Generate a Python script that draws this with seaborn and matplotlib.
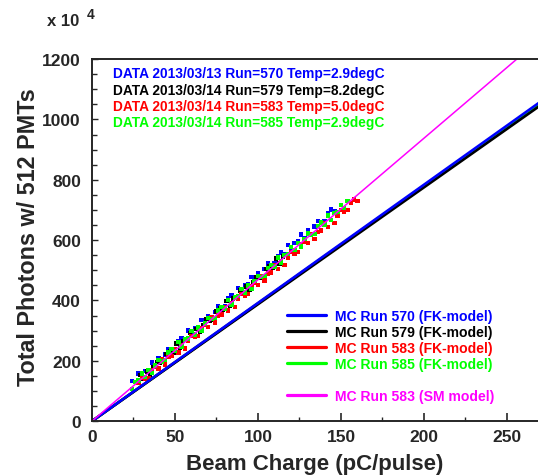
import matplotlib
matplotlib.use("Agg")
import matplotlib.pyplot as plt
import seaborn as sns
import pandas as pd
from matplotlib.lines import Line2D
from matplotlib.ticker import MultipleLocator

# data points (beam charge in pC/pulse, photons x 1e4)
run570_x = [24, 26, 28, 30, 32, 34, 36, 38, 40, 42, 44, 46, 48, 50, 52, 54, 56, 58, 60, 62,
            64, 66, 68, 70, 72, 74, 76, 78, 80, 82, 84, 86, 88, 90, 92, 94, 96, 98, 100, 102,
            104, 106, 108, 110, 112, 114, 116, 118, 120, 122, 124, 126, 128, 130, 132, 134,
            136, 138, 140, 142, 144, 146]
run570_y = [134, 129, 158, 143, 166, 170, 194, 183, 207, 196, 221, 239, 235, 239, 264, 276,
            270, 300, 284, 308, 312, 336, 325, 348, 338, 362, 381, 376, 381, 406, 417, 412,
            441, 426, 449, 454, 477, 467, 490, 479, 504, 522, 518, 522, 548, 559, 554, 583,
            567, 591, 595, 619, 608, 632, 621, 645, 664, 659, 664, 689, 701, 695]

run579_x = [27, 29, 31, 33, 35, 37, 39, 41, 43, 45, 47, 49, 51, 53, 55, 57, 59, 61, 63, 65,
            67, 69, 71, 73, 75, 77, 79, 81, 83, 85, 87, 89, 91, 93, 95, 97, 99, 101, 103, 105,
            107, 109, 111, 113, 115, 117]
run579_y = [129, 152, 141, 165, 154, 179, 197, 192, 197, 222, 233, 228, 257, 242, 265, 269,
            293, 282, 306, 295, 319, 338, 333, 337, 363, 374, 369, 398, 382, 406, 410, 433,
            423, 446, 436, 460, 478, 474, 478, 504, 515, 509, 539, 523, 546, 551]

run583_x = [28, 30, 32, 34, 36, 38, 40, 42, 44, 46, 48, 50, 52, 54, 56, 58, 60, 62, 64, 66,
            68, 70, 72, 74, 76, 78, 80, 82, 84, 86, 88, 90, 92, 94, 96, 98, 100, 102, 104, 106,
            108, 110, 112, 114, 116, 118, 120, 122, 124, 126, 128, 130, 132, 134, 136, 138,
            140, 142, 144, 146, 148, 150, 152, 154, 156, 158, 160]
run583_y = [126, 145, 140, 144, 169, 181, 175, 204, 188, 212, 216, 239, 228, 252, 241, 265,
            283, 278, 283, 308, 319, 313, 343, 327, 350, 354, 378, 367, 390, 379, 404, 422,
            417, 421, 447, 458, 452, 481, 466, 489, 493, 516, 505, 529, 518, 542, 560, 556,
            560, 585, 596, 591, 620, 604, 627, 632, 655, 644, 667, 657, 681, 699, 694, 699,
            724, 735, 729]

run585_x = [24, 26, 28, 30, 32, 34, 36, 38, 40, 42, 44, 46, 48, 50, 52, 54, 56, 58, 60, 62,
            64, 66, 68, 70, 72, 74, 76, 78, 80, 82, 84, 86, 88, 90, 92, 94, 96, 98, 100, 102,
            104, 106, 108, 110, 112, 114, 116, 118, 120, 122, 124, 126, 128, 130, 132, 134,
            136, 138, 140, 142, 144, 146, 148, 150, 152, 154]
run585_y = [107, 130, 135, 158, 147, 170, 160, 184, 202, 198, 202, 227, 239, 233, 262, 247,
            270, 274, 298, 287, 310, 300, 324, 342, 338, 342, 367, 379, 373, 402, 386, 410,
            414, 437, 427, 450, 439, 464, 482, 477, 482, 507, 518, 513, 542, 526, 550, 554,
            577, 567, 590, 579, 604, 622, 617, 621, 647, 658, 652, 682, 666, 689, 694, 717,
            706, 730]

# MC expectation lines (end points)
mc_charge = [0, 270]
mc570 = [0, 1058]
mc579 = [0, 1046]
mc583 = [0, 1053]
mc585 = [0, 1053]
sm583 = [0, 1266]

data_labels = ["DATA 2013/03/13 Run=570 Temp=2.9degC",
               "DATA 2013/03/14 Run=579 Temp=8.2degC",
               "DATA 2013/03/14 Run=583 Temp=5.0degC",
               "DATA 2013/03/14 Run=585 Temp=2.9degC"]
mc_labels = ["MC Run 570 (FK-model)", "MC Run 579 (FK-model)", "MC Run 583 (FK-model)",
             "MC Run 585 (FK-model)", " ", "MC Run 583 (SM model)"]

BLUE = "#0000ff"
BLACK = "#000000"
RED = "#ff0000"
GREEN = "#00ff00"
MAGENTA = "#ff00ff"

sns.set_style("ticks")
plt.rcParams['font.family'] = ['Liberation Sans', 'DejaVu Sans']
plt.rcParams['font.weight'] = 'bold'

df = pd.concat([
    pd.DataFrame({"q": run570_x, "n": run570_y, "run": "570"}),
    pd.DataFrame({"q": run579_x, "n": run579_y, "run": "579"}),
    pd.DataFrame({"q": run583_x, "n": run583_y, "run": "583"}),
    pd.DataFrame({"q": run585_x, "n": run585_y, "run": "585"}),
])

fig = plt.figure(figsize=(5.38, 4.77), dpi=100)
ax = fig.add_axes([0.171, 0.115, 0.829, 0.759])

# MC lines
for y, c in [(mc583, RED), (mc585, GREEN), (mc579, BLACK), (mc570, BLUE)]:
    sns.lineplot(x=mc_charge, y=y, color=c, linewidth=1.9, ax=ax)

sns.scatterplot(data=df, x="q", y="n", hue="run",
                palette={"570": BLUE, "579": BLACK, "583": RED, "585": GREEN},
                marker="s", s=10, linewidth=0, legend=False, ax=ax)

sns.lineplot(x=mc_charge, y=sm583, color=MAGENTA, linewidth=1.1, ax=ax)

ax.set_xlim(0, 268.7)
ax.set_ylim(0, 1200)
ax.xaxis.set_major_locator(MultipleLocator(50))
ax.xaxis.set_minor_locator(MultipleLocator(25))
ax.yaxis.set_major_locator(MultipleLocator(200))
ax.yaxis.set_minor_locator(MultipleLocator(50))
ax.tick_params(axis="x", which="major", direction="in", length=6, width=1.2,
               labelsize=12.5, pad=6)
ax.tick_params(axis="x", which="minor", direction="in", length=3, width=1.0)
ax.tick_params(axis="y", which="major", direction="in", length=4, width=1.0,
               labelsize=12.5, pad=8)
ax.tick_params(axis="y", which="minor", direction="in", length=3.5, width=1.0)
for lab in ax.get_xticklabels() + ax.get_yticklabels():
    lab.set_fontweight("bold")

for side in ["left", "bottom", "top"]:
    ax.spines[side].set_linewidth(1.4)
ax.spines["right"].set_visible(False)

ax.set_xlabel("Beam Charge (pC/pulse)", fontsize=16, fontweight="bold", labelpad=6)
ax.set_ylabel("Total Photons w/ 512 PMTs", fontsize=16.8, fontweight="bold")
ax.yaxis.set_label_coords(-0.117, 0.512)

# data run labels
for lab, c, yy in zip(data_labels, [BLUE, BLACK, RED, GREEN], [0.962, 0.915, 0.870, 0.826]):
    ax.text(0.047, yy, lab, color=c, fontsize=9.9, fontweight="bold",
            transform=ax.transAxes, va="center", ha="left")

# MC legend
handles = [Line2D([], [], color=c, linewidth=2.3) for c in [BLUE, BLACK, RED, GREEN]]
handles.append(Line2D([], [], color="none"))
handles.append(Line2D([], [], color=MAGENTA, linewidth=2.3))
leg = ax.legend(handles, mc_labels, loc="upper left", bbox_to_anchor=(0.437, 0.31),
                frameon=False, fontsize=10.1, handlelength=2.78, handletextpad=0.64,
                labelspacing=0.14, borderpad=0, borderaxespad=0)
for t, c in zip(leg.get_texts(), [BLUE, BLACK, RED, GREEN, "none", MAGENTA]):
    t.set_color(c)
    t.set_fontweight("bold")

fig.text(47 / 538, 1 - 22 / 477, "x 10", fontsize=12, fontweight="bold", va="center")
fig.text(87 / 538, 1 - 15 / 477, "4", fontsize=10, fontweight="bold", va="center")

fig.savefig("out.png", dpi=100)
